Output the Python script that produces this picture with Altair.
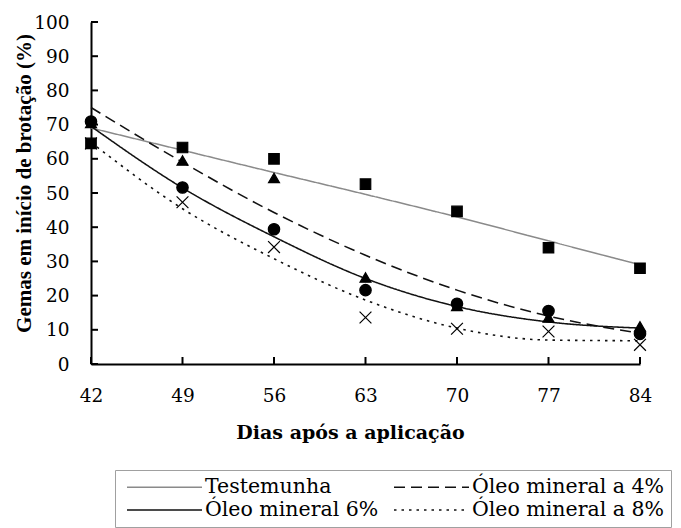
import altair as alt
import pandas as pd

# ---- data ----
days = [42, 49, 56, 63, 70, 77, 84]
series_names = ["Testemunha", "Óleo mineral a 4%", "Óleo mineral 6%", "Óleo mineral a 8%"]
# legend fills column by column: col 1 = Testemunha, 6% ; col 2 = a 4%, a 8%
legend_order = ["Testemunha", "Óleo mineral 6%", "Óleo mineral a 4%", "Óleo mineral a 8%"]

# observed values (markers)
obs_testemunha = [64.5, 63.3, 60.0, 52.6, 44.6, 34.0, 28.0]
obs_4 = [70.5, 59.5, 54.4, 25.3, 17.0, 13.6, 11.0]
obs_6 = [70.9, 51.6, 39.4, 21.6, 17.6, 15.5, 8.8]
obs_8 = [64.5, 47.3, 34.2, 13.6, 10.3, 9.5, 5.6]

# fitted curves (lines)
fit_testemunha = [69.0, 62.5, 56.0, 49.6, 43.0, 36.0, 29.0]
fit_4 = [75.0, 59.0, 44.3, 31.8, 21.6, 14.0, 9.0]
fit_6 = [69.5, 51.5, 37.2, 25.0, 16.8, 12.3, 10.5]
fit_8 = [64.8, 45.4, 30.8, 18.7, 10.5, 7.0, 6.8]

y_tick_values = [0, 10, 20, 30, 40, 50, 60, 70, 80, 90, 100]

# ---- styles (in legend_order) ----
line_colors = ["#8a8a8a", "#111111", "#111111", "#111111"]
line_dashes = [[1, 0], [1, 0], [11, 6], [2.5, 5]]
line_widths = [1.5, 1.6, 2.0, 2.2]
# markers (in series_names order)
point_shapes = ["square", "triangle-up", "circle", "M-1,-1L1,1M-1,1L1,-1"]
point_sizes = [110, 140, 100, 90]

W, H = 549, 342

obs_lists = [obs_testemunha, obs_4, obs_6, obs_8]
fit_lists = [fit_testemunha, fit_4, fit_6, fit_8]

obs_df = pd.DataFrame(
    [{"day": d, "value": v, "grupo": s} for s, vals in zip(series_names, obs_lists) for d, v in zip(days, vals)]
)
fit_df = pd.DataFrame(
    [{"day": d, "value": v, "series": s} for s, vals in zip(series_names, fit_lists) for d, v in zip(days, vals)]
)
xt_df = pd.DataFrame({"day": days})
yt_df = pd.DataFrame({"value": y_tick_values})

x_scale = alt.Scale(domain=[42, 84], nice=False, zero=False)
y_scale = alt.Scale(domain=[0, 100], nice=False)

x_axis = alt.Axis(
    values=days, title="Dias após a aplicação", ticks=False, tickSize=0, grid=False,
    domainColor="black", domainWidth=2, labelFlush=False, labelOverlap=False,
    labelFont="DejaVu Serif", labelFontSize=18.5, labelColor="black", labelPadding=22,
    titleFont="DejaVu Serif", titleFontWeight="bold", titleFontSize=19, titleColor="black",
    titleX=259, titleY=74, titleBaseline="alphabetic",
)
y_axis = alt.Axis(
    values=y_tick_values, tickCount=11, title="Gemas em início de brotação (%)", ticks=False, tickSize=0, grid=False,
    domainColor="black", domainWidth=2, labelFlush=False, labelOverlap=False,
    labelFont="DejaVu Serif", labelFontSize=18.5, labelColor="black", labelPadding=22,
    titleFont="Liberation Serif", titleFontWeight="bold", titleFontSize=21, titleColor="black",
    titleX=-57, titleY=161,
)

legend = alt.Legend(
    title=None, orient="none", legendX=24, legendY=448, columns=2,
    symbolType="M-3.75,0H3.75", symbolSize=400, symbolStrokeWidth=1.6, symbolOffset=32.5,
    labelOffset=29.5, labelFont="DejaVu Serif", labelFontSize=20.5, labelColor="black", labelLimit=0,
    padding=6, rowPadding=1, columnPadding=9,
    strokeColor="#a0a0a0", fillColor="white",
)

lines = alt.Chart(fit_df).mark_line(interpolate="monotone").encode(
    x=alt.X("day:Q", scale=x_scale, axis=x_axis),
    y=alt.Y("value:Q", scale=y_scale, axis=y_axis),
    color=alt.Color("series:N", sort=legend_order,
                    scale=alt.Scale(domain=legend_order, range=line_colors), legend=legend),
    strokeDash=alt.StrokeDash("series:N", sort=legend_order,
                              scale=alt.Scale(domain=legend_order, range=line_dashes), legend=legend),
    strokeWidth=alt.StrokeWidth("series:N", scale=alt.Scale(domain=legend_order, range=line_widths), legend=None),
)

points = alt.Chart(obs_df).mark_point(
    filled=True, color="black", stroke="black", strokeWidth=1.2, opacity=1
).encode(
    x=alt.X("day:Q", scale=x_scale),
    y=alt.Y("value:Q", scale=y_scale),
    shape=alt.Shape("grupo:N", scale=alt.Scale(domain=series_names, range=point_shapes), legend=None),
    size=alt.Size("grupo:N", scale=alt.Scale(domain=series_names, range=point_sizes), legend=None),
)

# inward ticks on both axes
x_ticks = alt.Chart(xt_df).mark_tick(color="black", orient="vertical", size=7, thickness=2, opacity=1).encode(
    x=alt.X("day:Q", scale=x_scale), y=alt.value(H - 3.5)
)
y_ticks_layer = alt.Chart(yt_df).mark_tick(color="black", orient="horizontal", size=7, thickness=2, opacity=1).encode(
    y=alt.Y("value:Q", scale=y_scale), x=alt.value(3.5)
)

chart = alt.layer(lines, points, x_ticks, y_ticks_layer).resolve_scale(
    shape="independent", size="independent", strokeWidth="independent"
).properties(
    width=W, height=H,
    autosize=alt.AutoSizeParams(type="none"),
    padding={"left": 83, "top": 14, "right": 33, "bottom": 164},
    background="white",
).configure_view(stroke=None).configure_axis(labelOverlap=False)

chart.save("out.html", embed_options={"renderer": "svg", "actions": False})
